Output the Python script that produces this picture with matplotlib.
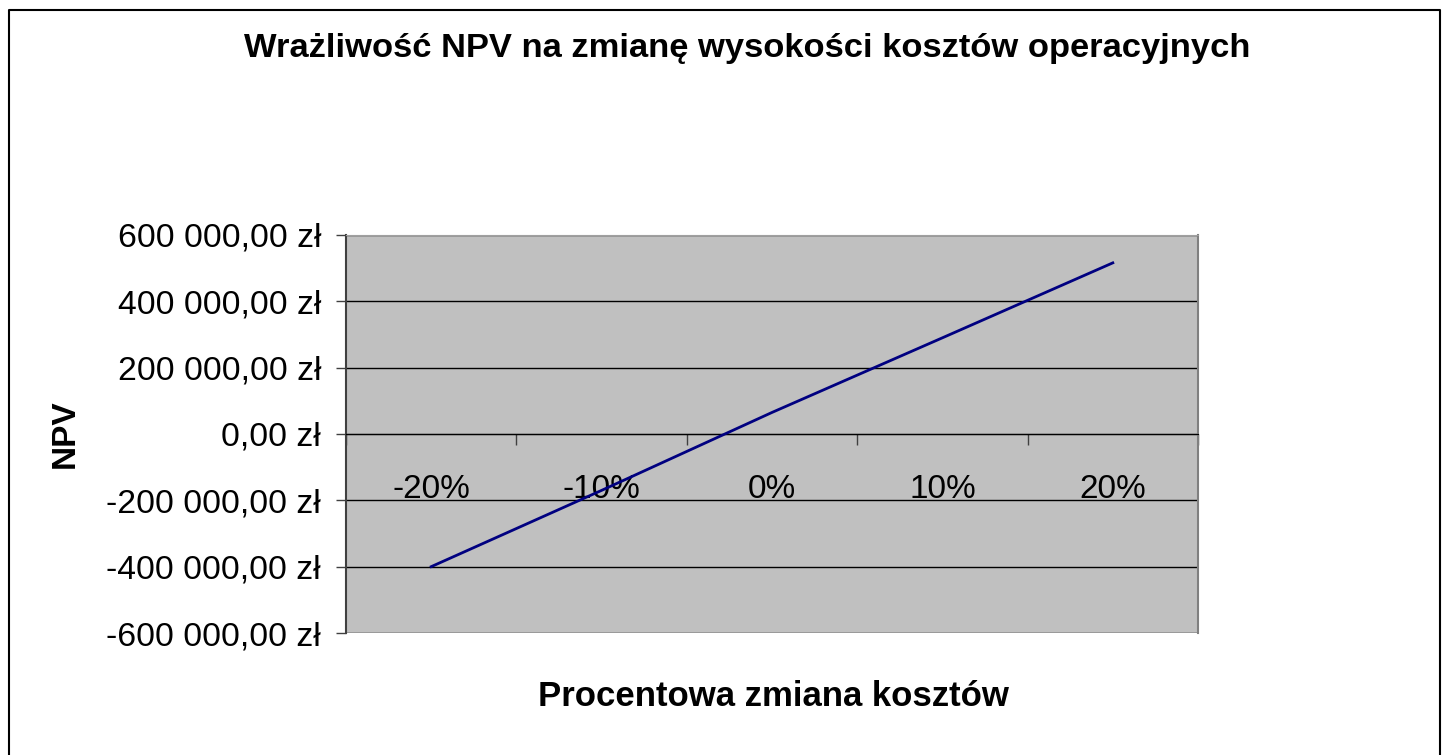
import matplotlib
matplotlib.use("Agg")
import matplotlib.pyplot as plt
from matplotlib.lines import Line2D
from matplotlib.ticker import FixedLocator, FuncFormatter

plt.rcParams['font.family'] = ['Liberation Sans', 'DejaVu Sans']

# dane
zmiana = ["-20%", "-10%", "0%", "10%", "20%"]
npv = [-400000, -170000, 65000, 290000, 516000]
y_ticks = [-600000, -400000, -200000, 0, 200000, 400000, 600000]


def zl(v, pos=None):
    s = f"{abs(v):,.2f}".replace(",", " ").replace(".", ",")
    return ("-" if v < 0 else "") + s + " zł"


fig = plt.figure(figsize=(14.43, 7.55), dpi=100)
ax = fig.add_axes([346 / 1443, 1 - 633 / 755, 852 / 1443, 398 / 755])
ax.set_facecolor("#C0C0C0")

x = list(range(len(zmiana)))
ax.plot(x, npv, color="#000080", lw=2, zorder=3)

ax.set_xlim(-0.5, len(zmiana) - 0.5)
ax.set_ylim(y_ticks[0], y_ticks[-1])

# os Y
ax.yaxis.set_major_locator(FixedLocator(y_ticks))
ax.yaxis.set_major_formatter(FuncFormatter(zl))
ax.tick_params(axis="y", length=7, width=1, color="#404040", pad=11, labelsize=24.3)
ax.grid(axis="y", color="black", lw=1)
ax.set_axisbelow(True)

# os X na wysokosci zera, znaczniki na granicach kategorii
ax.spines["bottom"].set_position(("data", 0))
ax.spines["bottom"].set_color("black")
ax.xaxis.set_major_locator(FixedLocator([i - 0.5 for i in x] + [len(x) - 0.5]))
ax.xaxis.set_major_formatter(FuncFormatter(lambda v, p: ""))
ax.xaxis.set_minor_locator(FixedLocator(x))
ax.set_xticklabels(zmiana, minor=True)
ax.tick_params(axis="x", which="major", length=8, width=1, color="#404040", direction="out")
ax.tick_params(axis="x", which="minor", length=0, pad=28.5, labelsize=24)

ax.spines["left"].set_color("#404040")
ax.spines["left"].set_linewidth(1.5)
ax.spines["right"].set_color("#808080")
ax.spines["right"].set_linewidth(1.5)
ax.spines["top"].set_color("#A0A0A0")

fig.text(747.5 / 1443, 1 - 49 / 755, "Wrażliwość NPV na zmianę wysokości kosztów operacyjnych",
         ha="center", va="center", fontsize=24.8, fontweight="bold")
fig.text(773 / 1443, 1 - 696 / 755, "Procentowa zmiana kosztów",
         ha="center", va="center", fontsize=25, fontweight="bold")
fig.text(65 / 1443, 1 - 434 / 755, "NPV", rotation=90,
         ha="center", va="center", fontsize=24, fontweight="bold")

# ramka obszaru wykresu
fig.add_artist(Line2D([9 / 1443, 9 / 1443, 1440 / 1443, 1440 / 1443],
                      [0, 1 - 10 / 755, 1 - 10 / 755, 0],
                      transform=fig.transFigure, color="black", lw=1.5))

fig.savefig("out.png", dpi=100)
